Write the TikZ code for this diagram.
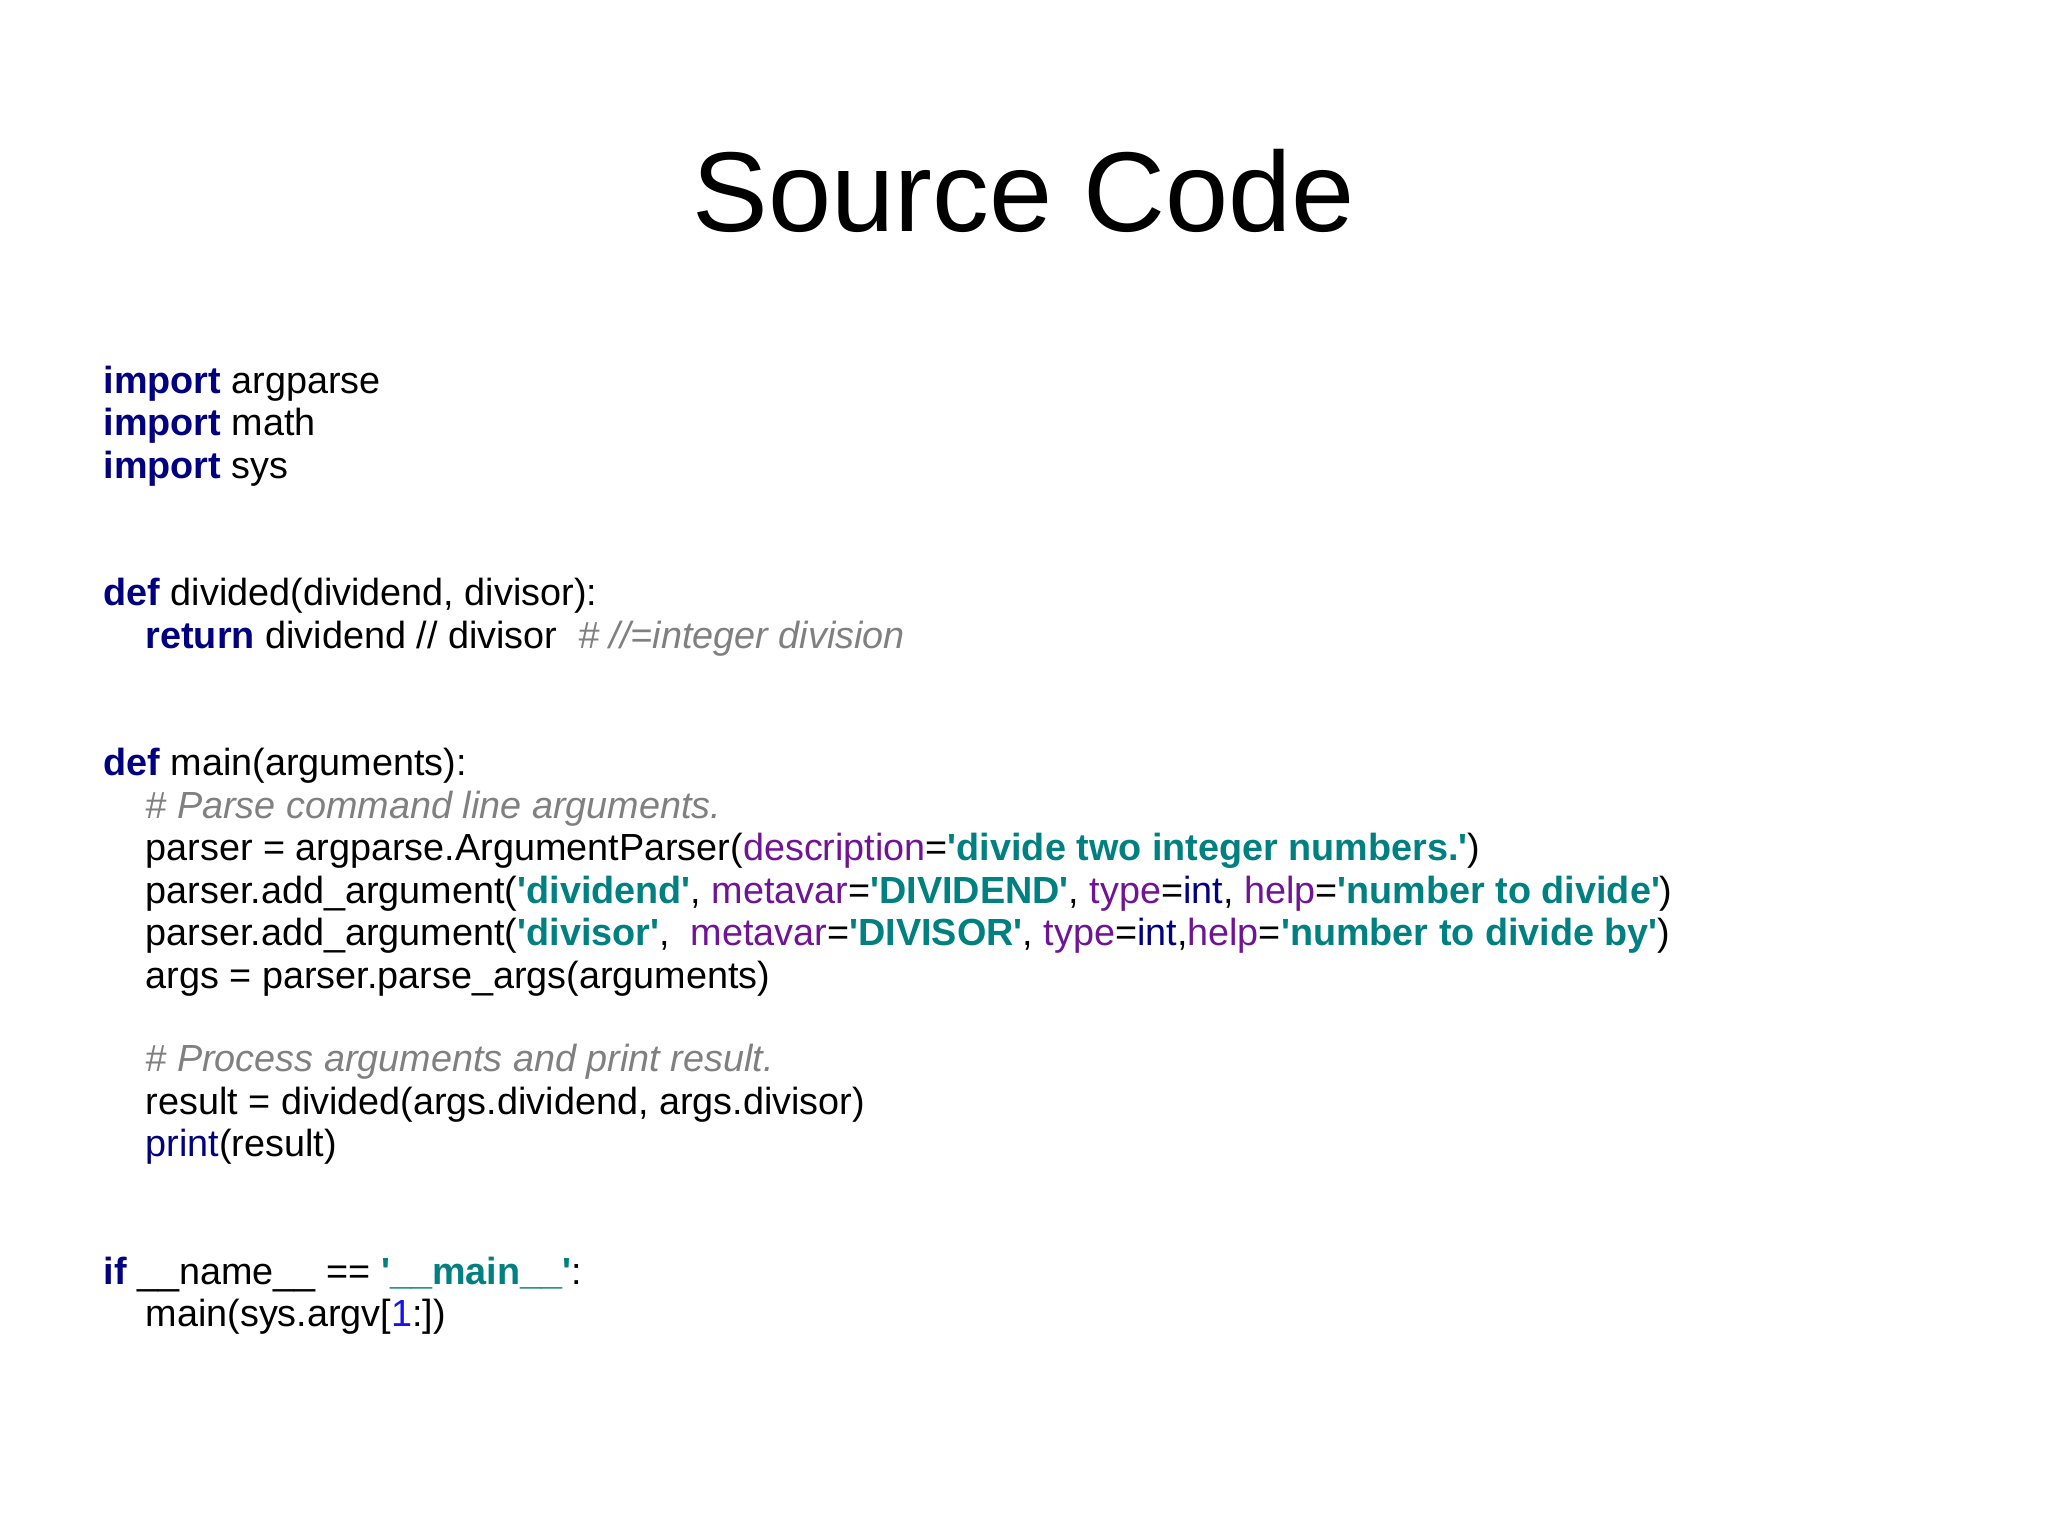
\documentclass[tikz,border=0pt]{standalone}
\usepackage{fontspec}
\setmainfont{Liberation Sans}
\definecolor{kw}{RGB}{0,0,128}
\definecolor{arg}{RGB}{112,20,150}
\definecolor{str}{RGB}{0,128,128}
\definecolor{cmt}{RGB}{128,128,128}
\definecolor{num}{RGB}{20,20,230}
\newcommand{\q}{\textquotesingle}
\newcommand{\kw}[1]{\textcolor{kw}{\textbf{#1}}}
\newcommand{\ar}[1]{\textcolor{arg}{#1}}
\newcommand{\st}[1]{\textcolor{str}{\textbf{\q#1\q}}}
\newcommand{\cm}[1]{\textcolor{cmt}{\textit{#1}}}
\begin{document}
\begin{tikzpicture}[
  code/.style={anchor=base west,inner sep=0pt,font=\fontsize{10.75pt}{12pt}\selectfont},
  title/.style={font=\fontsize{32.3pt}{38pt}\selectfont}]
\useasboundingbox (0,0) rectangle (20.48,15.35);

%title
\node[title] (title) at (10.24,13.44) {Source Code};

%imports
\node[code] (l1) at (1.03,15.35-3.94) {\kw{import} argparse};
\node[code] (l2) at (1.03,15.35-4.36) {\kw{import} math};
\node[code] (l3) at (1.03,15.35-4.79) {\kw{import} sys};

%divided
\node[code] (l4) at (1.03,15.35-6.06) {\kw{def} divided(dividend, divisor):};
\node[code] (l5) at (1.45,15.35-6.49) {\kw{return} dividend // divisor\ \ \cm{\# //=integer division}};

%main
\node[code] (l6) at (1.03,15.35-7.76) {\kw{def} main(arguments):};
\node[code] (l7) at (1.45,15.35-8.19) {\cm{\# Parse command line arguments.}};
\node[code] (l8) at (1.45,15.35-8.61) {parser = argparse.ArgumentParser(\ar{description}=\st{divide two integer numbers.})};
\node[code] (l9) at (1.45,15.35-9.04) {parser.add\_argument(\st{dividend}, \ar{metavar}=\st{DIVIDEND}, \ar{type}=\textcolor{kw}{int}, \ar{help}=\st{number to divide})};
\node[code] (l10) at (1.45,15.35-9.46) {parser.add\_argument(\st{divisor},\ \ \ar{metavar}=\st{DIVISOR}, \ar{type}=\textcolor{kw}{int},\ar{help}=\st{number to divide by})};
\node[code] (l11) at (1.45,15.35-9.89) {args = parser.parse\_args(arguments)};
\node[code] (l12) at (1.45,15.35-10.72) {\cm{\# Process arguments and print result.}};
\node[code] (l13) at (1.45,15.35-11.15) {result = divided(args.dividend, args.divisor)};
\node[code] (l14) at (1.45,15.35-11.57) {\textcolor{kw}{print}(result)};

%entry point
\node[code] (l15) at (1.03,15.35-12.85) {\kw{if} \_\_name\_\_ == \st{\_\_main\_\_}:};
\node[code] (l16) at (1.45,15.35-13.27) {main(sys.argv[\textcolor{num}{1}:])};
\end{tikzpicture}
\end{document}
